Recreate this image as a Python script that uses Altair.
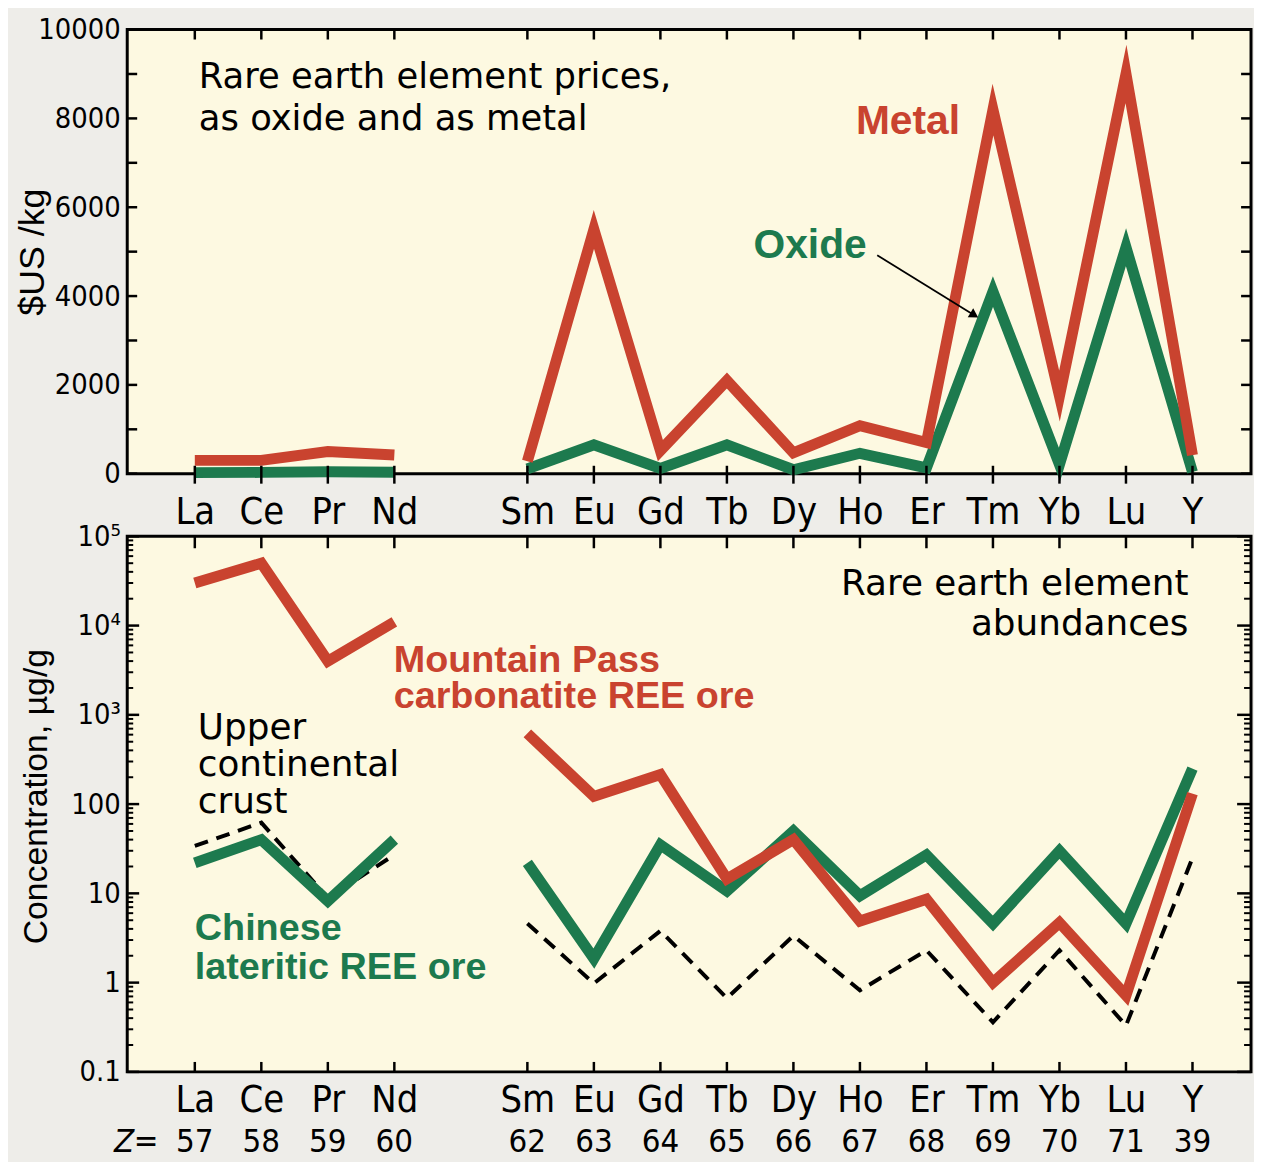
import altair as alt
import pandas as pd

# ---------------- data ----------------
elements = ["La", "Ce", "Pr", "Nd", "Sm", "Eu", "Gd", "Tb", "Dy", "Ho", "Er", "Tm", "Yb", "Lu", "Y"]
atomic_numbers = [57, 58, 59, 60, 62, 63, 64, 65, 66, 67, 68, 69, 70, 71, 39]
# slot along the x axis (slot 4 = Pm, left empty)
slots = [0, 1, 2, 3, 5, 6, 7, 8, 9, 10, 11, 12, 13, 14, 15]
segment = ["light", "light", "light", "light"] + ["heavy"] * 11

# prices, $US/kg
metal_price = [300, 300, 500, 420, 280, 5500, 520, 2100, 470, 1080, 700, 8200, 1750, 9000, 420]
oxide_price = [25, 30, 45, 35, 110, 650, 120, 650, 90, 460, 130, 4100, 210, 5100, 40]

# abundances, ug/g
mountain_pass = [30000, 50000, 4000, 11000, 620, 122, 214, 14.5, 40, 4.9, 8.6, 1.0, 4.7, 0.72, 131]
chinese_lateritic = [22, 40, 8.2, 40, 22, 1.86, 35, 10.6, 50, 9.4, 27, 4.6, 30, 4.6, 250]
upper_crust = [34, 62, 8.9, 27, 4.6, 0.98, 3.8, 0.67, 3.35, 0.82, 2.3, 0.36, 2.3, 0.33, 25]

price_tick_values = [0, 1000, 2000, 3000, 4000, 5000, 6000, 7000, 8000, 9000, 10000]
price_label_values = [0, 2000, 4000, 6000, 8000, 10000]
log_major_values = [0.1, 1, 10, 100, 1000, 10000, 100000]
log_major_labels = ["0.1", "1", "10", "100", "10³", "10⁴", "10⁵"]
minor_multipliers = [2, 3, 4, 5, 6, 7, 8, 9]
log_minor_values = [m * d for d in log_major_values[:-1] for m in minor_multipliers]

# ---------------- style ----------------
RED = "#c9432f"
GREEN = "#1d7a4e"
CREAM = "#fdf9e1"
GREY = "#eeede9"
NARROW = "Liberation Sans Narrow, DejaVu Sans Condensed, Arial Narrow, sans-serif"
SANS = "DejaVu Sans, sans-serif"
HELV = "Liberation Sans, Arial, sans-serif"

W, H1, H2 = 1131, 447, 539
XSCALE = alt.Scale(domain=[-1.016, 15.88], nice=False, zero=False)
YLIN = alt.Scale(domain=[0, 10000], nice=False, zero=False)
YLOG = alt.Scale(type="log", domain=[0.1, 100000], nice=False)

base = pd.DataFrame({
    "slot": slots, "element": elements, "z": atomic_numbers, "seg": segment,
    "metal": metal_price, "oxide": oxide_price,
    "mp": mountain_pass, "cl": chinese_lateritic, "ucc": upper_crust,
})

slot_labels = [""] * 16
for s, e in zip(slots, elements):
    slot_labels[s] = e
x_label_expr = "[" + ",".join("'%s'" % l for l in slot_labels) + "][datum.value]"
log_label_expr = "[" + ",".join("'%s'" % l for l in log_major_labels) + "][round(log(datum.value)/LN10)+1]"


def x_axis(pad):
    return alt.Axis(values=slots, labelExpr=x_label_expr, ticks=False, domain=False, grid=False,
                    labelFont=NARROW, labelFontSize=38, labelColor="black", labelPadding=pad,
                    labelOverlap=False, labelFlush=False, title=None)


TOP_X = x_axis(20)
BOT_X = x_axis(10)
TOP_Y = alt.Axis(values=price_label_values, format="d", ticks=False, domain=False, grid=False,
                 labelFont=NARROW, labelFontSize=29, labelColor="black", labelPadding=7,
                 labelOverlap=False, title="$US /kg", titleFont=HELV, titleFontSize=36,
                 titleFontWeight="normal", titleColor="black", titleAngle=270, titleX=-95,
                 titleY=H1 / 2, titleAlign="center", titleBaseline="middle")
BOT_Y = alt.Axis(values=log_major_values, labelExpr=log_label_expr, ticks=False, domain=False,
                 grid=False, labelFont=NARROW, labelFontSize=29, labelColor="black", labelPadding=7,
                 labelOverlap=False, title="Concentration, µg/g", titleFont=HELV, titleFontSize=34,
                 titleFontWeight="normal", titleColor="black", titleAngle=270, titleX=-91,
                 titleY=H2 / 2 - 8, titleAlign="center", titleBaseline="middle")


def X(field, xaxis):
    return alt.X(f"{field}:Q", scale=XSCALE, axis=xaxis)


def line(field, color, yscale, xaxis, yaxis, width, dash=None):
    kw = dict(color=color, strokeWidth=width, strokeJoin="miter", strokeMiterLimit=6, strokeCap="butt")
    if dash is not None:
        kw["strokeDash"] = dash
    return alt.Chart(base).mark_line(**kw).encode(
        x=X("slot", xaxis),
        y=alt.Y(f"{field}:Q", scale=yscale, axis=yaxis),
        detail="seg:N",
        order="slot:Q",
    )


def xticks(xaxis, y0, y1):
    return alt.Chart(base).mark_rule(color="black", strokeWidth=2.5).encode(
        x=X("slot", xaxis), y=alt.value(y0), y2=alt.value(y1))


def yticks(values, yscale, yaxis, x0, x1, sw=2.5):
    return alt.Chart(pd.DataFrame({"v": values})).mark_rule(color="black", strokeWidth=sw).encode(
        y=alt.Y("v:Q", scale=yscale, axis=yaxis), x=alt.value(x0), x2=alt.value(x1))


def note(x, y, text, yscale, xaxis, yaxis, color="black", font=SANS, size=35.6, weight="normal",
         align="left", lh=42):
    df = pd.DataFrame({"x": [x], "y": [y], "t": [text]})
    return alt.Chart(df).mark_text(align=align, baseline="alphabetic", font=font, fontSize=size,
                                   fontWeight=weight, color=color, lineBreak="\n", lineHeight=lh).encode(
        x=X("x", xaxis), y=alt.Y("y:Q", scale=yscale, axis=yaxis), text="t:N")


# ---------------- top panel: prices ----------------
arrow_df = pd.DataFrame({"x1": [10.26], "y1": [4920], "x2": [11.72], "y2": [3570]})
arrow_line = alt.Chart(arrow_df).mark_rule(color="black", strokeWidth=1.8).encode(
    x=X("x1", TOP_X), y=alt.Y("y1:Q", scale=YLIN, axis=TOP_Y), x2="x2:Q", y2="y2:Q")
arrow_head = alt.Chart(arrow_df).mark_point(shape="triangle-right", angle=31.5, size=110, filled=True,
                                            color="black", opacity=1).encode(
    x=X("x2", TOP_X), y=alt.Y("y2:Q", scale=YLIN, axis=TOP_Y))

top = alt.layer(
    line("oxide", GREEN, YLIN, TOP_X, TOP_Y, 11),
    line("metal", RED, YLIN, TOP_X, TOP_Y, 11),
    xticks(TOP_X, 0, 10), xticks(TOP_X, H1 - 8, H1 + 10),
    yticks(price_tick_values, YLIN, TOP_Y, 0, 10),
    yticks(price_tick_values, YLIN, TOP_Y, W, W - 10),
    note(0.06, 8680, "Rare earth element prices,\nas oxide and as metal", YLIN, TOP_X, TOP_Y, lh=42),
    note(9.94, 7650, "Metal", YLIN, TOP_X, TOP_Y, color=RED, font=HELV, size=41, weight="bold"),
    note(8.40, 4850, "Oxide", YLIN, TOP_X, TOP_Y, color=GREEN, font=HELV, size=41, weight="bold"),
    arrow_line, arrow_head,
).properties(width=W, height=H1)

# ---------------- bottom panel: abundances ----------------
ZY = H2 + 71
z_row = alt.Chart(base).mark_text(font=NARROW, fontSize=33, baseline="middle", color="black").encode(
    x=X("slot", BOT_X), y=alt.value(ZY), text="z:N")
z_letter = alt.Chart(base.head(1)).mark_text(text="Z", font=NARROW, fontSize=33, fontStyle="italic",
                                             align="right", baseline="middle", color="black").encode(
    x=alt.value(7), y=alt.value(ZY))
z_equals = alt.Chart(base.head(1)).mark_text(text="=", font=NARROW, fontSize=33, align="center",
                                             baseline="middle", color="black").encode(
    x=alt.value(19), y=alt.value(ZY))

bottom = alt.layer(
    line("ucc", "black", YLOG, BOT_X, BOT_Y, 4, dash=[14, 9]),
    line("cl", GREEN, YLOG, BOT_X, BOT_Y, 11),
    line("mp", RED, YLOG, BOT_X, BOT_Y, 11),
    xticks(BOT_X, 0, 12), xticks(BOT_X, H2 - 10, H2),
    yticks(log_major_values, YLOG, BOT_Y, 0, 12),
    yticks(log_minor_values, YLOG, BOT_Y, 0, 6, sw=2),
    yticks(log_major_values, YLOG, BOT_Y, W, W - 14),
    yticks(log_minor_values, YLOG, BOT_Y, W, W - 7, sw=2),
    note(14.94, 22000, "Rare earth element\nabundances", YLOG, BOT_X, BOT_Y, align="right", size=36,
         lh=40),
    note(2.99, 2985, "Mountain Pass\ncarbonatite REE ore", YLOG, BOT_X, BOT_Y, color=RED, font=HELV,
         size=38, weight="bold", lh=36),
    note(0.045, 536, "Upper\ncontinental\ncrust", YLOG, BOT_X, BOT_Y, size=36, lh=37),
    note(0.0, 3.02, "Chinese\nlateritic REE ore", YLOG, BOT_X, BOT_Y, color=GREEN, font=HELV, size=38,
         weight="bold", lh=39),
    z_row, z_letter, z_equals,
).properties(width=W, height=H2)

chart = alt.vconcat(top, bottom, spacing=63, bounds="flush").properties(
    background=GREY, padding={"left": 5, "top": 2, "right": 0, "bottom": 0}
).configure_view(stroke="black", strokeWidth=3, fill=CREAM)

chart.save("out.html", embed_options={"renderer": "svg", "actions": False})
